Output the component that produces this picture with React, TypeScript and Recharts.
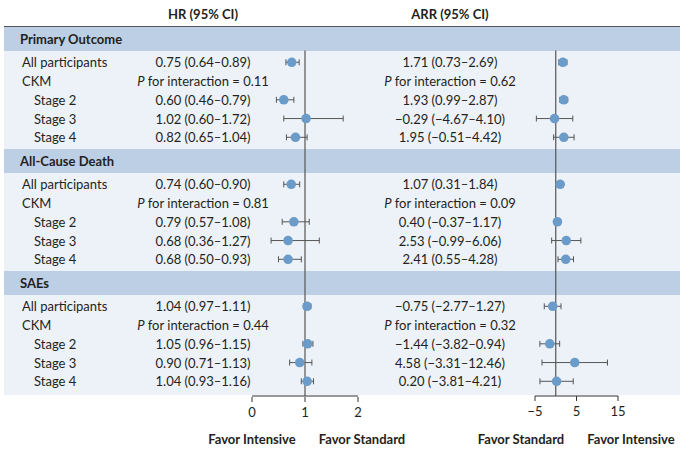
import React from "react";
import {
  ScatterChart,
  Scatter,
  XAxis,
  YAxis,
  ErrorBar,
  ReferenceLine,
} from "recharts";

// [estimate, lower, upper]
const sections = ["Primary Outcome", "All-Cause Death", "SAEs"];
const subgroups = ["All participants", "Stage 2", "Stage 3", "Stage 4"];

const hrPrimary = [[0.75, 0.64, 0.89], [0.6, 0.46, 0.79], [1.02, 0.6, 1.72], [0.82, 0.65, 1.04]];
const hrDeath = [[0.74, 0.6, 0.9], [0.79, 0.57, 1.08], [0.68, 0.36, 1.27], [0.68, 0.5, 0.93]];
const hrSae = [[1.04, 0.97, 1.11], [1.05, 0.96, 1.15], [0.9, 0.71, 1.13], [1.04, 0.93, 1.16]];

const arrPrimary = [[1.71, 0.73, 2.69], [1.93, 0.99, 2.87], [-0.29, -4.67, 4.1], [1.95, -0.51, 4.42]];
const arrDeath = [[1.07, 0.31, 1.84], [0.4, -0.37, 1.17], [2.53, -0.99, 6.06], [2.41, 0.55, 4.28]];
const arrSae = [[-0.75, -2.77, 1.27], [-1.44, -3.82, 0.94], [4.58, -3.31, 12.46], [0.2, -3.81, 4.21]];

const pHR = [0.11, 0.81, 0.44];
const pARR = [0.62, 0.09, 0.32];

const hrTicks = [0, 1, 2];
const arrTicks = [-5, 5, 15];

const hrBySection = [hrPrimary, hrDeath, hrSae];
const arrBySection = [arrPrimary, arrDeath, arrSae];

// layout (pixels)
const W = 692;
const H = 459;
const TABLE_LEFT = 4;
const TABLE_RIGHT = 680;
const TABLE_TOP = 27;
const TABLE_BOTTOM = 395;
const SECTION_H = 122;
const HEADER_H = 23.5;
const ROW_H = 18.75;
const AXIS_Y = 396;
const HR_X = 203;
const ARR_X = 450;
const FONT = "Lato, 'Open Sans', sans-serif";
const BLUE = "#6b9bc9";
const HEAD_BG = "#bccfe4";
const ROW_BG = "#edf2f8";
const INK = "#231f20";

const fmt = (v: number) => (v < 0 ? "\u2212" : "") + Math.abs(v).toFixed(2);
const ci = (r: number[]) => `${fmt(r[0])} (${fmt(r[1])}\u2013${fmt(r[2])})`;

const sectionTop = (s: number) => TABLE_TOP + SECTION_H * s;
const rowY = (s: number, i: number) => sectionTop(s) + HEADER_H + 11.8 + ROW_H * i;

type Row = {
  y: number;
  kind: "col" | "section" | "group" | "ckm";
  label?: string;
  indent?: boolean;
  hr?: string;
  arr?: string;
  pHr?: number;
  pArr?: number;
};

const rows: Row[] = [{ y: 14, kind: "col", hr: "HR (95% CI)", arr: "ARR (95% CI)" }];
sections.forEach((name, s) => {
  rows.push({ y: sectionTop(s) + HEADER_H / 2, kind: "section", label: name });
  const hr = hrBySection[s];
  const arr = arrBySection[s];
  rows.push({ y: rowY(s, 0), kind: "group", label: subgroups[0], hr: ci(hr[0]), arr: ci(arr[0]) });
  rows.push({ y: rowY(s, 1), kind: "ckm", label: "CKM", pHr: pHR[s], pArr: pARR[s] });
  for (let i = 1; i < subgroups.length; i++) {
    rows.push({
      y: rowY(s, i + 1),
      kind: "group",
      label: subgroups[i],
      indent: true,
      hr: ci(hr[i]),
      arr: ci(arr[i]),
    });
  }
});

const points = (bySection: number[][][]) =>
  bySection.flatMap((sec, s) =>
    sec.map((r, i) => ({
      x: r[0],
      y: rowY(s, i === 0 ? 0 : i + 1),
      err: [r[0] - r[1], r[2] - r[0]],
    }))
  );

const hrPoints = points(hrBySection);
const arrPoints = points(arrBySection);

const RowTick = (props: any) => {
  const row = rows.find((r) => Math.abs(r.y - props.payload.value) < 0.01);
  if (!row) return null;
  const y = props.y;
  const common = { fontFamily: FONT, fontSize: 13, fill: INK, dominantBaseline: "central" as const };
  if (row.kind === "col") {
    return (
      <g>
        <text {...common} x={HR_X} y={y} textAnchor="middle" fontWeight={700}>{row.hr}</text>
        <text {...common} x={ARR_X} y={y} textAnchor="middle" fontWeight={700}>{row.arr}</text>
      </g>
    );
  }
  if (row.kind === "section") {
    return (
      <text {...common} x={20} y={y} fontWeight={700}>{row.label}</text>
    );
  }
  if (row.kind === "ckm") {
    return (
      <g>
        <text {...common} x={22} y={y}>{row.label}</text>
        <text {...common} x={HR_X} y={y} textAnchor="middle">
          <tspan fontStyle="italic">P</tspan> for interaction = {row.pHr!.toFixed(2)}
        </text>
        <text {...common} x={ARR_X} y={y} textAnchor="middle">
          <tspan fontStyle="italic">P</tspan> for interaction = {row.pArr!.toFixed(2)}
        </text>
      </g>
    );
  }
  return (
    <g>
      <text {...common} x={row.indent ? 34 : 22} y={y}>{row.label}</text>
      <text {...common} x={HR_X} y={y} textAnchor="middle">{row.hr}</text>
      <text {...common} x={ARR_X} y={y} textAnchor="middle">{row.arr}</text>
    </g>
  );
};

const Dot = (p: any) => <circle cx={p.cx} cy={p.cy} r={4.8} fill={BLUE} />;

const favorStyle: React.CSSProperties = {
  position: "absolute",
  top: 431,
  width: 120,
  textAlign: "center",
  fontFamily: FONT,
  fontSize: 13,
  fontWeight: 700,
  color: INK,
};

const tickStyle = { fontFamily: FONT, fontSize: 13, fill: INK };

// table background bands
const Band = ({ top, bottom, color }: { top: number; bottom: number; color: string }) => (
  <div
    style={{
      position: "absolute",
      left: TABLE_LEFT,
      width: TABLE_RIGHT - TABLE_LEFT,
      top,
      height: bottom - top,
      background: color,
    }}
  />
);

export default function App() {
  return (
    <div style={{ position: "absolute", left: 0, top: 0, width: W, height: H, background: "#fff" }}>
      {sections.map((_, s) => (
        <React.Fragment key={s}>
          <Band top={sectionTop(s)} bottom={sectionTop(s) + HEADER_H} color={HEAD_BG} />
          <Band
            top={sectionTop(s) + HEADER_H}
            bottom={s === sections.length - 1 ? TABLE_BOTTOM : sectionTop(s + 1)}
            color={ROW_BG}
          />
        </React.Fragment>
      ))}
      <div
        style={{
          position: "absolute",
          left: TABLE_LEFT,
          width: TABLE_RIGHT - TABLE_LEFT,
          top: TABLE_TOP - 1,
          height: 1.4,
          background: "#555",
        }}
      />
      <div style={{ position: "absolute", left: 0, top: 0 }}>
        <ScatterChart width={W} height={H} margin={{ top: 0, right: 12, bottom: H - AXIS_Y - 2, left: 3 }}>
          <YAxis
            type="number"
            dataKey="y"
            domain={[0, AXIS_Y]}
            reversed
            width={1}
            ticks={rows.map((r) => r.y)}
            interval={0}
            axisLine={false}
            tickLine={false}
            tick={<RowTick />}
            allowDataOverflow
          />
          <XAxis
            xAxisId="hr"
            type="number"
            dataKey="x"
            domain={[0, 2]}
            ticks={hrTicks}
            padding={{ left: 248, right: 322 }}
            height={1}
            axisLine={false}
            tickSize={5}
            tickMargin={6}
            tickLine={{ stroke: "#333" }}
            tick={tickStyle}
            allowDataOverflow
          />
          <XAxis
            xAxisId="arr"
            type="number"
            dataKey="x"
            domain={[-5, 15]}
            ticks={arrTicks}
            padding={{ left: 531, right: 62 }}
            height={1}
            axisLine={false}
            tickSize={5}
            tickMargin={6}
            tickLine={{ stroke: "#333" }}
            tick={tickStyle}
            tickFormatter={(v: number) => (v < 0 ? "\u2212" + Math.abs(v) : String(v))}
            allowDataOverflow
          />

          <ReferenceLine
            xAxisId="hr"
            segment={[{ x: 1, y: TABLE_TOP + HEADER_H }, { x: 1, y: AXIS_Y }]}
            stroke="#555"
            strokeWidth={1.2}
          />
          <ReferenceLine
            xAxisId="arr"
            segment={[{ x: 0, y: TABLE_TOP + HEADER_H }, { x: 0, y: AXIS_Y }]}
            stroke="#555"
            strokeWidth={1.2}
          />
          <ReferenceLine
            xAxisId="hr"
            segment={[{ x: 0, y: AXIS_Y }, { x: 2, y: AXIS_Y }]}
            stroke="#333"
          />
          <ReferenceLine
            xAxisId="arr"
            segment={[{ x: -5, y: AXIS_Y }, { x: 15, y: AXIS_Y }]}
            stroke="#333"
          />

          <Scatter xAxisId="hr" data={hrPoints} shape={<Dot />} isAnimationActive={false}>
            <ErrorBar dataKey="err" direction="x" width={3} stroke="#555" strokeWidth={1} />
          </Scatter>
          <Scatter xAxisId="arr" data={arrPoints} shape={<Dot />} isAnimationActive={false}>
            <ErrorBar dataKey="err" direction="x" width={3} stroke="#555" strokeWidth={1} />
          </Scatter>
        </ScatterChart>
      </div>
      <div style={{ ...favorStyle, left: 252 - 60 }}>Favor Intensive</div>
      <div style={{ ...favorStyle, left: 362 - 60 }}>Favor Standard</div>
      <div style={{ ...favorStyle, left: 521 - 60 }}>Favor Standard</div>
      <div style={{ ...favorStyle, left: 631 - 60 }}>Favor Intensive</div>
    </div>
  );
}
